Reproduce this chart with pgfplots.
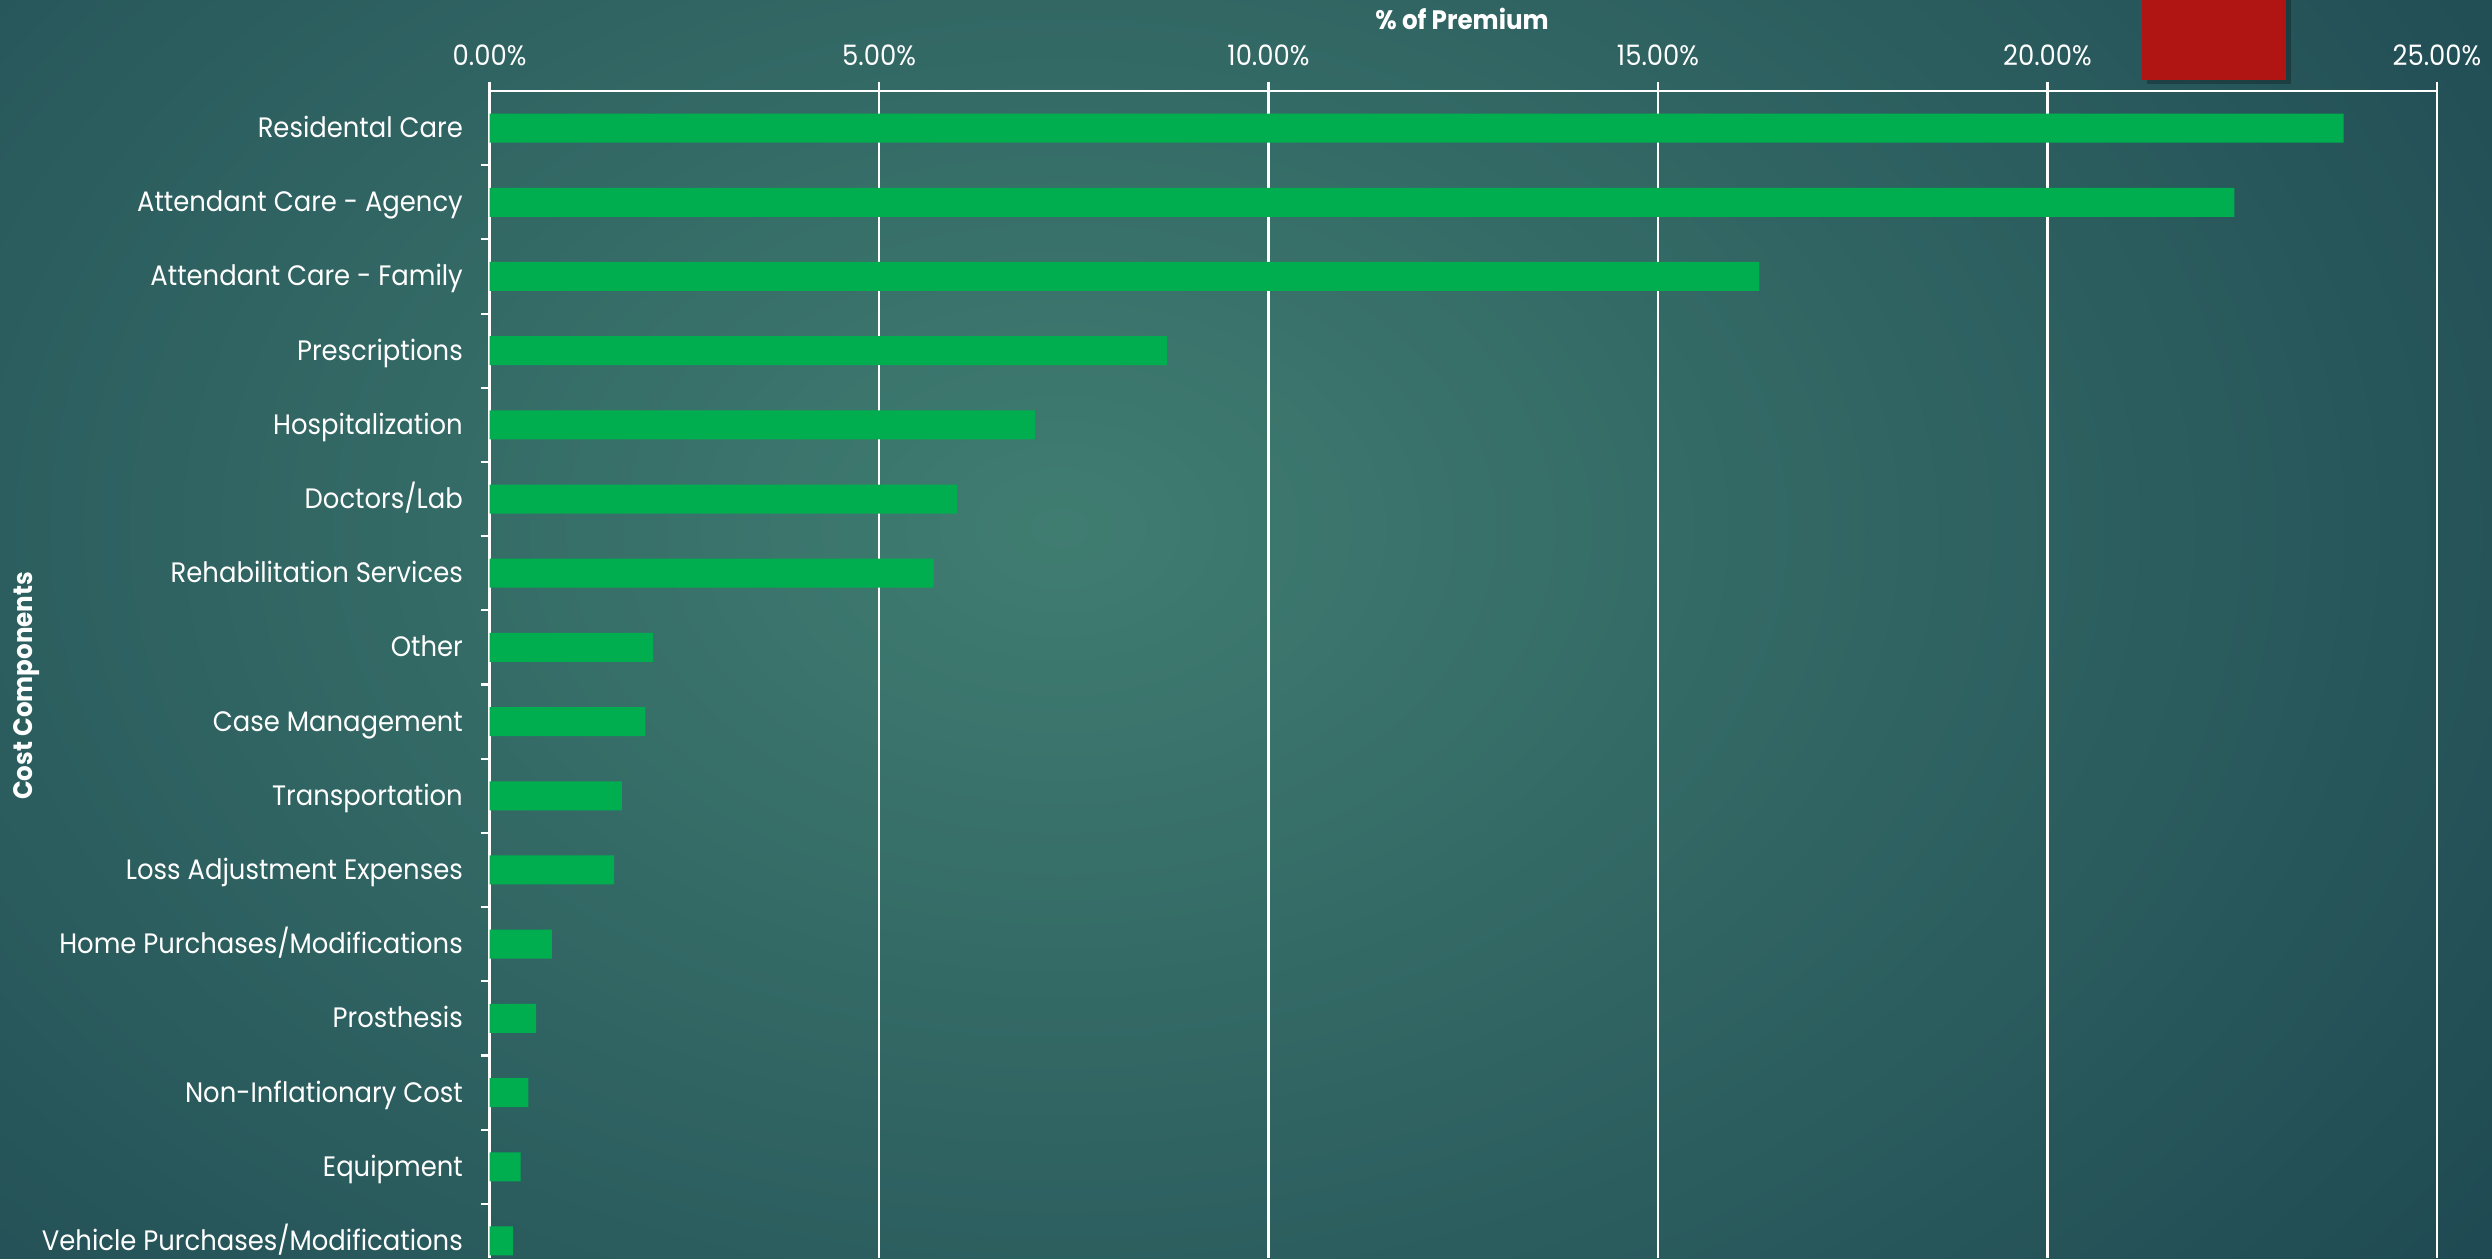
\documentclass[border=0pt]{standalone}
\usepackage{pgfplots}
\pgfplotsset{compat=1.18}
\usepackage{fontspec}
\setmainfont{Poppins}[FakeStretch=0.92]
\definecolor{bgin}{RGB}{64,125,113}
\definecolor{bgout}{RGB}{17,52,70}
\definecolor{bargreen}{RGB}{0,174,80}
\definecolor{slidered}{RGB}{176,21,19}
\begin{document}
\begin{tikzpicture}
\useasboundingbox (0,0) rectangle (24.92,12.58);
\fill[bgout] (0,0) rectangle (24.92,12.58);
\begin{scope}
\clip (0,0) rectangle (24.92,12.58);
\shade[inner color=bgin, outer color=bgout] (10.6-25,7.3-17.5) rectangle (10.6+25,7.3+17.5);
\end{scope}
\fill[black, opacity=0.25] (21.47,11.74) rectangle (22.91,12.58);
\fill[slidered] (21.42,11.78) rectangle (22.86,12.58);
\begin{axis}[
  at={(4.895cm,11.67cm)}, anchor=north west,
  scale only axis, width=19.475cm, height=11.67cm,
  xmin=0, xmax=25, ymin=-0.23, ymax=15.5,
  axis x line*=top, axis y line*=left,
  axis line style={white, line width=0.8pt, -},
  xtick={0,5,10,15,20,25},
  xticklabels={0.00\%,5.00\%,10.00\%,15.00\%,20.00\%,25.00\%},
  xmajorgrids, grid style={white, line width=0.6pt},
  tick align=outside, major tick length=0.09cm,
  tick style={white, line width=0.6pt},
  xticklabel style={text=white, font=\fontsize{8}{9.6}\selectfont, inner sep=0pt, yshift=1.5mm},
  ytick={0.5,1.5,...,14.5}, yticklabels={},
  extra y ticks={0,1,...,15},
  extra y tick labels={Vehicle Purchases/Modifications, Equipment, Non-Inflationary Cost, Prosthesis, Home Purchases/Modifications, Loss Adjustment Expenses, Transportation, Case Management, Other, Rehabilitation Services, Doctors/Lab, Hospitalization, Prescriptions, Attendant Care - Family, Attendant Care - Agency, Residental Care},
  extra y tick style={tick style={draw=none}},
  yticklabel style={text=white, font=\fontsize{8}{9.6}\selectfont, inner sep=0pt, anchor=base east, xshift=-1.7mm, yshift=-0.95mm},
]
\addplot[xbar, fill=bargreen, draw=none, bar width=0.29cm] coordinates {
(23.8,15) (22.4,14) (16.3,13) (8.7,12) (7.0,11) (6.0,10) (5.7,9) (2.1,8)
(2.0,7) (1.7,6) (1.6,5) (0.8,4) (0.6,3) (0.5,2) (0.4,1) (0.3,0)};
\end{axis}
\node[anchor=base, text=white, font=\fontsize{7.6}{9}\selectfont\bfseries] at (14.62,12.28) {\% of Premium};
\node[anchor=base, rotate=90, text=white, font=\fontsize{7.6}{9}\selectfont\bfseries] at (0.33,5.72) {Cost Components};
\end{tikzpicture}
\end{document}
